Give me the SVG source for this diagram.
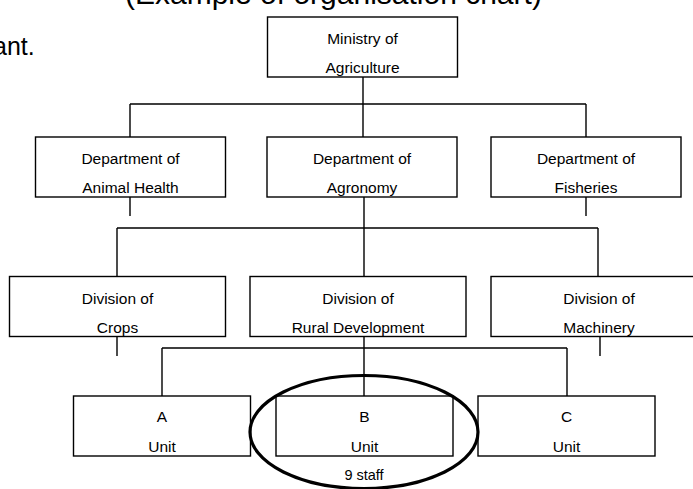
<svg xmlns="http://www.w3.org/2000/svg" width="693" height="489" viewBox="0 0 693 489">
<style>
.box{fill:#fff;stroke:#000;stroke-width:1.4}
.t{font-family:"Liberation Sans",Arial,sans-serif;font-size:15.5px;text-anchor:middle;fill:#000}
.big{font-family:"Liberation Sans",Arial,sans-serif;fill:#000}
.c{fill:none;stroke:#000;stroke-width:1.4}
</style>
<rect width="693" height="489" fill="#fff"/>
<text class="big" x="125" y="4" font-size="30">(Example of organisation chart)</text>
<text class="big" x="-7" y="55" font-size="25">ant.</text>
<g id="connectors">
<path class="c" d="M363,77V104M130,104H586M130,104V137M363,104V137M586,104V137"/>
<path class="c" d="M130,197V216M586,197V216"/>
<path class="c" d="M364,197V276M117,228H598M117,228V276M598,228V276"/>
<path class="c" d="M117,337V356M600,337V356"/>
<path class="c" d="M364,337V396M162,348H567M162,348V396M567,348V396"/>
</g>
<g id="ministry"><rect class="box" x="267.5" y="17" width="190" height="60"/><text class="t" x="362.5" y="43.5">Ministry of</text><text class="t" x="362.5" y="73">Agriculture</text></g>
<g id="dept-animal"><rect class="box" x="35.5" y="137" width="190" height="60"/><text class="t" x="130.5" y="163.5">Department of</text><text class="t" x="130.5" y="193">Animal Health</text></g>
<g id="dept-agronomy"><rect class="box" x="267" y="137" width="190" height="60"/><text class="t" x="362" y="163.5">Department of</text><text class="t" x="362" y="193">Agronomy</text></g>
<g id="dept-fisheries"><rect class="box" x="491" y="137" width="190" height="60"/><text class="t" x="586" y="163.5">Department of</text><text class="t" x="586" y="193">Fisheries</text></g>
<g id="div-crops"><rect class="box" x="9.5" y="276.5" width="216" height="60"/><text class="t" x="117.5" y="303.5">Division of</text><text class="t" x="117.5" y="333">Crops</text></g>
<g id="div-rural"><rect class="box" x="250" y="276.5" width="216" height="60"/><text class="t" x="358" y="303.5">Division of</text><text class="t" x="358" y="333">Rural Development</text></g>
<g id="div-machinery"><rect class="box" x="491" y="276.5" width="216" height="60"/><text class="t" x="599" y="303.5">Division of</text><text class="t" x="599" y="333">Machinery</text></g>
<g id="unit-a"><rect class="box" x="73.5" y="396" width="177" height="60"/><text class="t" x="162" y="422">A</text><text class="t" x="162" y="452">Unit</text></g>
<g id="unit-b"><rect class="box" x="276" y="396" width="177" height="60"/><text class="t" x="364.5" y="422">B</text><text class="t" x="364.5" y="452">Unit</text></g>
<g id="unit-c"><rect class="box" x="478" y="396" width="177" height="60"/><text class="t" x="566.5" y="422">C</text><text class="t" x="566.5" y="452">Unit</text></g>
<g id="highlight"><ellipse cx="364" cy="432" rx="114" ry="56.5" fill="none" stroke="#000" stroke-width="3.2"/><text class="t" x="364" y="480" style="font-size:14.5px">9 staff</text></g>
</svg>
